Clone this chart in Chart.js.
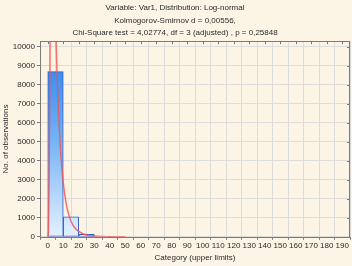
<!DOCTYPE html>
<html><head><meta charset="utf-8">
<script src="https://cdn.jsdelivr.net/npm/chart.js@4/dist/chart.umd.min.js"></script>
<style>html,body{margin:0;padding:0;background:#fcf5e6;}#wrap{width:352px;height:266px;}</style>
</head><body><div id="wrap"><canvas id="c" width="352" height="266"></canvas></div>
<script>
const titleLines = ["Variable: Var1, Distribution: Log-normal","Kolmogorov-Smirnov d = 0,00556,","Chi-Square test = 4,02774, df = 3 (adjusted) , p = 0,25848"];
const binLower = [0, 10, 20, 30];
const binUpper = [10, 20, 30, 40];
const counts = [8700, 1050, 130, 20];
const curveX = [0, 0.5, 1, 1.5, 2, 3, 4, 5, 6, 7, 8, 9, 10, 12, 14, 16, 18, 20, 23, 26, 30, 35, 40, 50];
const curveY = [0, 400, 4500, 10000, 14000, 16000, 14500, 11500, 8600, 6500, 4900, 3700, 2850, 1700, 1050, 650, 420, 280, 150, 85, 40, 15, 5, 0];
const xTicks = [0,10,20,30,40,50,60,70,80,90,100,110,120,130,140,150,160,170,180,190];
const yTicks = [0,1000,2000,3000,4000,5000,6000,7000,8000,9000,10000];

const FONT = "'Liberation Sans', Arial, sans-serif";
const TXT = '#2a2a2a';

const frame = {
  id: 'frame',
  afterDatasetsDraw(chart) {
    const a = chart.chartArea, c = chart.ctx;
    c.save();
    c.strokeStyle = '#7a7a7a'; c.lineWidth = 1;
    c.strokeRect(Math.round(a.left)+0.5, Math.round(a.top)+0.5, Math.round(a.right-a.left)-1, Math.round(a.bottom-a.top));
    const xs = chart.scales.x, ys = chart.scales.y;
    c.beginPath();
    xTicks.forEach(v => { const p = Math.round(xs.getPixelForValue(v))+0.5; c.moveTo(p, a.top); c.lineTo(p, a.top+3); });
    yTicks.forEach(v => { const p = Math.round(ys.getPixelForValue(v))+0.5; c.moveTo(a.right, p); c.lineTo(a.right-3, p); });
    c.stroke();
    c.restore();
  }
};

new Chart(document.getElementById('c'), {
  type: 'bar',
  data: {
    datasets: [
      {
        type: 'line',
        data: curveX.map((x, i) => ({x, y: curveY[i]})),
        borderColor: 'rgba(240,80,80,0.8)',
        borderWidth: 1.5,
        pointRadius: 0,
        cubicInterpolationMode: 'monotone',
        order: 0
      },
      {
        data: binLower.map((l, i) => ({x: (l + binUpper[i]) / 2, y: counts[i]})),
        backgroundColor: (ctx) => {
          const a = ctx.chart.chartArea;
          if (!a) return '#6aaaf0';
          const g = ctx.chart.ctx.createLinearGradient(0, a.top, 0, a.bottom);
          g.addColorStop(0, '#1f7ff2');
          g.addColorStop(0.5, '#74b2f6');
          g.addColorStop(1, '#e4f1fe');
          return g;
        },
        borderColor: '#3058c8',
        borderWidth: 1,
        borderSkipped: false,
        categoryPercentage: 1,
        barPercentage: 1,
        order: 1
      }
    ]
  },
  options: {
    responsive: false,
    animation: false,
    devicePixelRatio: 1,
    layout: { padding: { left: 0, right: 2, top: 0, bottom: 0 } },
    plugins: {
      legend: { display: false },
      tooltip: { enabled: false },
      title: {
        display: true,
        text: titleLines,
        color: TXT,
        font: { family: FONT, size: 8, weight: 'normal', lineHeight: 1.55 },
        padding: { top: 2, bottom: 2 }
      }
    },
    scales: {
      x: {
        type: 'linear',
        min: -5, max: 195,
        offset: false,
        afterBuildTicks: (s) => { s.ticks = xTicks.map(v => ({value: v})); },
        ticks: { color: TXT, font: { family: FONT, size: 8 }, padding: 1, maxRotation: 0, autoSkip: false, callback: (v) => String(v) },
        grid: { color: '#dcdcdc', tickLength: 3, tickColor: '#7a7a7a' },
        border: { display: false },
        title: { display: true, text: 'Category (upper limits)', color: TXT, font: { family: FONT, size: 8 }, padding: { top: 2, bottom: 3 } }
      },
      y: {
        min: 0, max: 10300,
        afterBuildTicks: (s) => { s.ticks = yTicks.map(v => ({value: v})); },
        afterFit: (s) => { s.width = 40; },
        ticks: { color: TXT, font: { family: FONT, size: 8 }, padding: 2, autoSkip: false, callback: (v) => String(v) },
        grid: { color: '#dcdcdc', tickLength: 3, tickColor: '#7a7a7a' },
        border: { display: false },
        title: { display: true, text: 'No. of observations', color: TXT, font: { family: FONT, size: 8 }, padding: { top: 1, bottom: 0 } }
      }
    }
  },
  plugins: [frame]
});
</script>
</body></html>
